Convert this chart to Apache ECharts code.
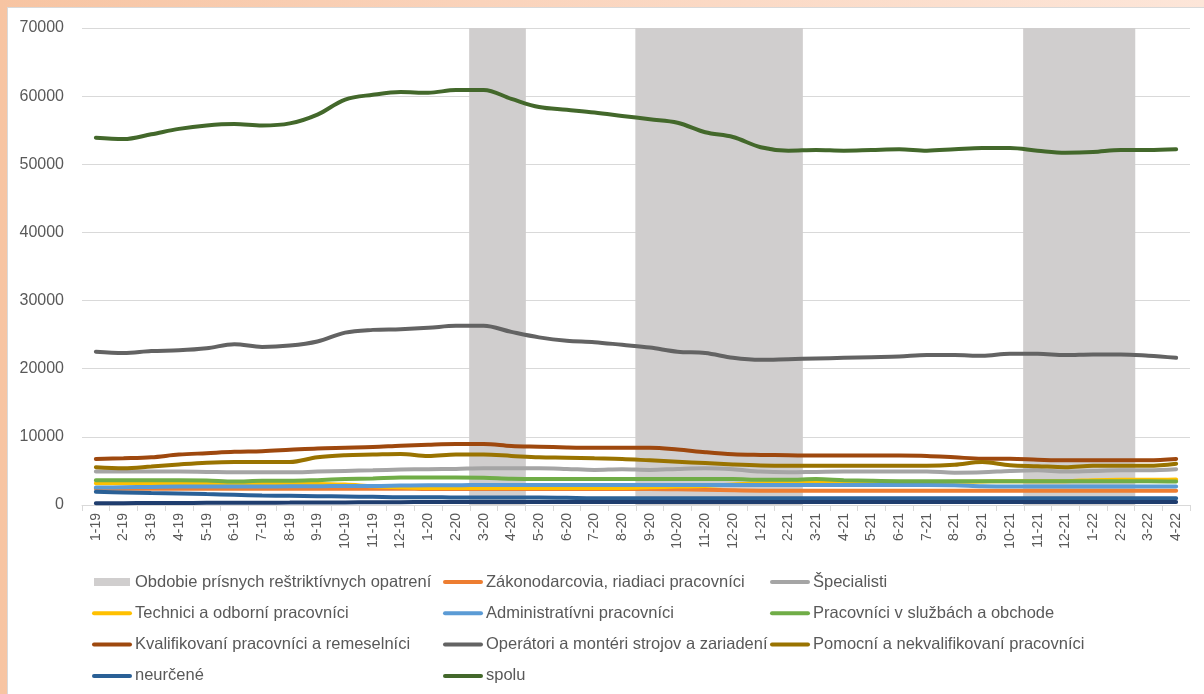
<!DOCTYPE html>
<html>
<head>
<meta charset="utf-8">
<script src="https://cdn.jsdelivr.net/npm/echarts@6/dist/echarts.min.js"></script>
<style>
  html, body { margin: 0; padding: 0; width: 1204px; height: 694px; overflow: hidden; }
  body { background: linear-gradient(to right, #f7c4a2 0%, #fad3bb 40%, #fde6d9 100%); position: relative; }
  #panel { position: absolute; left: 7px; top: 7px; right: 0; bottom: 0; background: #ffffff; border-top: 1px solid #d9d9d9; border-left: 1px solid #d9d9d9; }
  #chart { position: absolute; left: 0; top: 0; width: 1204px; height: 694px; }
</style>
</head>
<body>
<div id="panel"></div>
<div id="chart"></div>
<script>
// ---- categories (month-year) ----
const months = ['1-19','2-19','3-19','4-19','5-19','6-19','7-19','8-19','9-19','10-19','11-19','12-19',
  '1-20','2-20','3-20','4-20','5-20','6-20','7-20','8-20','9-20','10-20','11-20','12-20',
  '1-21','2-21','3-21','4-21','5-21','6-21','7-21','8-21','9-21','10-21','11-21','12-21',
  '1-22','2-22','3-22','4-22'];

// ---- y axis ticks ----
const yTicks = [0, 10000, 20000, 30000, 40000, 50000, 60000, 70000];

// ---- period of strict restrictive measures (shaded months) ----
const restrictionMonths = ['3-20','4-20','9-20','10-20','11-20','12-20','1-21','2-21','11-21','12-21','1-22','2-22'];
const restrictionLevel = 70000;

// ---- series values ----
const zakonodarcovia = [2400,2400,2400,2400,2400,2400,2400,2400,2400,2400,2400,2400,
  2350,2350,2350,2350,2350,2350,2350,2350,2350,2300,2250,2150,
  2100,2100,2100,2100,2100,2100,2100,2100,2100,2100,2100,2100,
  2100,2100,2100,2100];
const specialisti = [4900,4900,4900,4900,4850,4800,4800,4800,4900,5000,5100,5200,
  5250,5300,5400,5400,5400,5300,5150,5250,5150,5300,5400,5250,
  4900,4800,4850,4900,4900,4900,4900,4750,4800,5000,5100,4900,
  5000,5100,5100,5250];
const technici = [3200,3200,3150,3150,3150,3100,3100,3100,3100,3000,2750,2600,
  2500,2500,2500,2500,2500,2500,2500,2500,2600,2700,2800,3000,
  3200,3300,3300,3300,3300,3350,3350,3400,3450,3500,3500,3500,
  3650,3700,3700,3750];
const administrativni = [2550,2600,2650,2700,2700,2700,2700,2750,2750,2800,2800,2850,
  2900,2900,2950,2950,2950,2950,2950,2950,2950,2950,2950,2950,
  2950,2950,2950,2950,2950,2950,2950,2900,2750,2700,2700,2700,
  2700,2700,2700,2700];
const sluzby = [3650,3650,3650,3650,3600,3450,3550,3550,3650,3800,3900,4050,
  4050,4050,4000,3850,3800,3800,3800,3800,3800,3800,3800,3800,
  3700,3700,3800,3650,3550,3500,3500,3500,3500,3500,3500,3500,
  3500,3500,3500,3450];
const kvalifikovani = [6750,6850,7000,7400,7600,7800,7900,8100,8300,8400,8500,8700,
  8850,8950,8950,8650,8550,8450,8400,8400,8400,8150,7750,7450,
  7350,7300,7250,7250,7250,7250,7200,7000,6800,6800,6650,6550,
  6550,6550,6550,6750];
const operatori = [22500,22300,22600,22700,23000,23600,23200,23400,24000,25300,25700,25800,
  26000,26300,26300,25400,24600,24100,23900,23500,23100,22500,22300,21600,
  21300,21400,21500,21600,21700,21800,22000,22000,21900,22200,22200,22000,
  22100,22100,21900,21600];
const pomocni = [5550,5400,5650,5950,6200,6300,6300,6300,7000,7300,7400,7500,
  7200,7400,7400,7200,7000,6950,6850,6750,6550,6350,6150,5950,
  5800,5750,5750,5750,5750,5750,5750,5900,6300,5850,5700,5550,
  5750,5750,5750,6050];
const neurcene = [1950,1850,1750,1700,1600,1500,1400,1350,1300,1250,1200,1150,
  1150,1100,1100,1100,1100,1050,1000,1000,1000,1000,1000,1000,
  1000,1000,1000,1000,1000,1000,1000,1000,1000,1000,1000,1000,
  1000,1000,1000,1000];
const ostatne = [250,270,290,300,320,330,340,350,370,380,400,420,
  450,450,450,450,450,450,450,450,450,450,450,450,
  450,450,450,450,450,450,450,450,450,450,450,450,
  450,450,450,450];
const spolu = [53900,53700,54400,55200,55700,55900,55700,56000,57300,59500,60200,60600,
  60500,60900,60900,59600,58400,58000,57600,57100,56600,56100,54700,54000,
  52500,52000,52100,52000,52100,52200,52000,52200,52400,52400,52000,51700,
  51800,52100,52100,52200];

// ---- names ----
const nameBar = 'Obdobie prísnych reštriktívnych opatrení';
const lineDefs = [
  ['Zákonodarcovia, riadiaci pracovníci', zakonodarcovia, '#ed7d31'],
  ['Špecialisti', specialisti, '#a5a5a5'],
  ['Technici a odborní pracovníci', technici, '#ffc000'],
  ['Administratívni pracovníci', administrativni, '#5b9bd5'],
  ['Pracovníci v službách a obchode', sluzby, '#70ad47'],
  ['Kvalifikovaní pracovníci a remeselníci', kvalifikovani, '#9e480e'],
  ['Operátori a montéri strojov a zariadení', operatori, '#636363'],
  ['Pomocní a nekvalifikovaní pracovníci', pomocni, '#997300'],
  ['neurčené', neurcene, '#2a6096'],
  ['Ostatné', ostatne, '#1f3d6e'],
  ['spolu', spolu, '#43682b']
];

const barData = months.map(m => restrictionMonths.includes(m) ? restrictionLevel : null);

const series = [{
  name: nameBar, type: 'bar', data: barData, barWidth: 29, barGap: 0,
  itemStyle: { color: '#d0cece' }, silent: true
}].concat(lineDefs.map(d => ({
  name: d[0], type: 'line', data: d[1], smooth: 0.35, symbol: 'none', showSymbol: false,
  lineStyle: { width: 4, color: d[2], cap: 'round' }, itemStyle: { color: d[2] }
})));

const legendText = { color: '#595959', fontSize: 16.5, fontFamily: 'Liberation Sans', lineHeight: 20 };
const legendBase = { orient: 'vertical', top: 572, padding: 0, itemWidth: 36, itemHeight: 8, itemGap: 11.3,
  selectedMode: false, textStyle: legendText, itemStyle: { opacity: 0 }, lineStyle: { width: 4, cap: 'round' } };
const lineItem = n => ({ name: n });

const chart = echarts.init(document.getElementById('chart'), null, { renderer: 'canvas' });
chart.setOption({
  animation: false,
  backgroundColor: 'transparent',
  grid: { left: 82, right: 14, top: 28, bottom: 189 },
  xAxis: {
    type: 'category', data: months, boundaryGap: true,
    splitLine: { show: false },
    axisLine: { lineStyle: { color: '#d9d9d9', width: 1 } },
    axisTick: { show: true, alignWithLabel: false, length: 6, lineStyle: { color: '#d9d9d9' } },
    axisLabel: { rotate: 90, interval: 0, color: '#595959', fontSize: 14, fontFamily: 'Liberation Sans', margin: 8 }
  },
  yAxis: {
    type: 'value', min: yTicks[0], max: yTicks[yTicks.length - 1], interval: yTicks[1] - yTicks[0],
    axisLine: { show: false }, axisTick: { show: false },
    splitLine: { lineStyle: { color: '#d9d9d9', width: 1 } },
    axisLabel: { color: '#595959', fontSize: 16, fontFamily: 'Liberation Sans', margin: 18, formatter: v => String(v) }
  },
  legend: [
    Object.assign({}, legendBase, { left: 92, data: [
      { name: nameBar, icon: 'rect', itemStyle: { opacity: 1, color: '#d0cece' } },
      lineItem('Technici a odborní pracovníci'), lineItem('Kvalifikovaní pracovníci a remeselníci'), lineItem('neurčené')] }),
    Object.assign({}, legendBase, { left: 443, data: [
      lineItem('Zákonodarcovia, riadiaci pracovníci'), lineItem('Administratívni pracovníci'),
      lineItem('Operátori a montéri strojov a zariadení'), lineItem('spolu')] }),
    Object.assign({}, legendBase, { left: 770, data: [
      lineItem('Špecialisti'), lineItem('Pracovníci v službách a obchode'), lineItem('Pomocní a nekvalifikovaní pracovníci')] })
  ],
  series: series
});
</script>
</body>
</html>
